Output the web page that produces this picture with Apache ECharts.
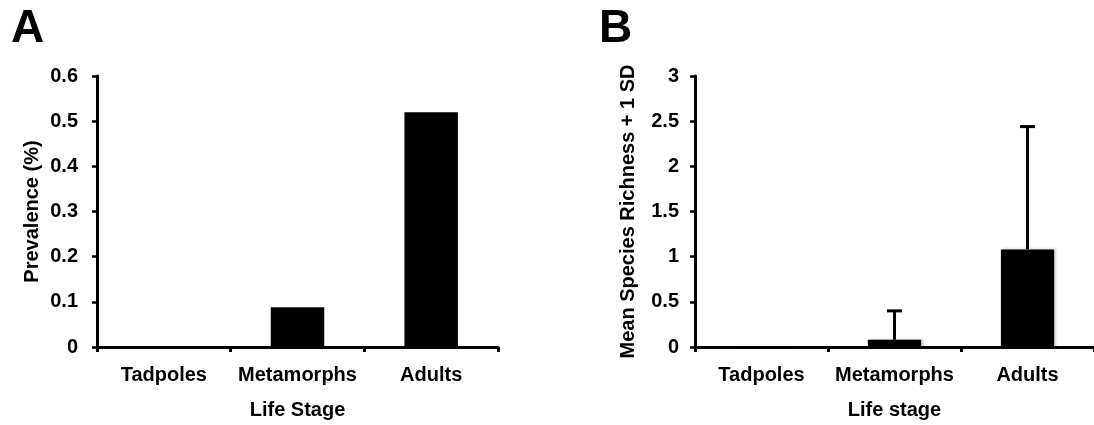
<!DOCTYPE html>
<html>
<head>
<meta charset="utf-8">
<script src="https://cdn.jsdelivr.net/npm/echarts@6/dist/echarts.min.js"></script>
<style>
  html, body { margin: 0; padding: 0; background: #fff; }
  #chart { width: 1094px; height: 425px; }
</style>
</head>
<body>
<div id="chart"></div>
<script>
// data
const stages = ["Tadpoles", "Metamorphs", "Adults"];
const prevalence = [0, 0.088, 0.52];
const richnessMean = [0.005, 0.08, 1.08];
const richnessSD = [0, 0.32, 1.36];

const font = "'Liberation Sans', Arial, sans-serif";
const black = "#000";

function valueAxis(idx, max, step, name, gap, margin) {
  return {
    type: "value",
    gridIndex: idx,
    min: 0,
    max: max,
    interval: step,
    name: name,
    nameLocation: "middle",
    nameGap: gap,
    nameTextStyle: { color: black, fontFamily: font, fontWeight: "bold", fontSize: 20 },
    axisLine: { show: true, lineStyle: { color: black, width: 3 } },
    axisTick: { show: true, length: 5, lineStyle: { color: black, width: 2.5 } },
    axisLabel: { color: black, fontFamily: font, fontWeight: "bold", fontSize: 20, margin: margin },
    splitLine: { show: false }
  };
}

function catAxis(idx, name) {
  return {
    type: "category",
    gridIndex: idx,
    data: stages,
    name: name,
    nameLocation: "middle",
    nameGap: 53,
    nameTextStyle: { color: black, fontFamily: font, fontWeight: "bold", fontSize: 20 },
    axisLine: { lineStyle: { color: black, width: 3 } },
    axisTick: { show: true, length: 5, lineStyle: { color: black, width: 3 } },
    axisLabel: { interval: 0, color: black, fontFamily: font, fontWeight: "bold", fontSize: 20, margin: 18 }
  };
}

const chart = echarts.init(document.getElementById("chart"));
chart.setOption({
  animation: false,
  backgroundColor: "#fff",
  title: [
    { text: "A", left: 6, top: 1, textStyle: { fontFamily: font, fontWeight: "bold", fontSize: 46, color: black } },
    { text: "B", left: 594, top: 1, textStyle: { fontFamily: font, fontWeight: "bold", fontSize: 46, color: black } }
  ],
  grid: [
    { left: 97, top: 76, width: 401, height: 276 },
    { left: 695, top: 76, width: 403, height: 276 }
  ],
  xAxis: [catAxis(0, "Life Stage"), catAxis(1, "Life stage")],
  yAxis: [
    valueAxis(0, 0.6, 0.1, "Prevalence (%)", 55, 19),
    valueAxis(1, 3, 0.5, "Mean Species Richness + 1 SD", 57, 16)
  ],
  series: [
    {
      type: "bar",
      xAxisIndex: 0,
      yAxisIndex: 0,
      data: prevalence,
      barWidth: "40%",
      itemStyle: { color: black }
    },
    {
      type: "bar",
      xAxisIndex: 1,
      yAxisIndex: 1,
      data: richnessMean,
      barWidth: "40%",
      itemStyle: { color: black, shadowColor: "rgba(0,0,0,0.25)", shadowBlur: 3, shadowOffsetX: 2 }
    },
    {
      type: "custom",
      xAxisIndex: 1,
      yAxisIndex: 1,
      data: richnessMean.map((m, i) => [i, m, m + richnessSD[i]]),
      renderItem: function (params, api) {
        if (api.value(2) <= api.value(1)) return null;
        const base = api.coord([api.value(0), api.value(1)]);
        const top = api.coord([api.value(0), api.value(2)]);
        const half = 7.5;
        const style = { stroke: black, lineWidth: 3 };
        return {
          type: "group",
          children: [
            { type: "line", shape: { x1: base[0], y1: base[1], x2: top[0], y2: top[1] }, style: style },
            { type: "line", shape: { x1: top[0] - half, y1: top[1], x2: top[0] + half, y2: top[1] }, style: style }
          ]
        };
      },
      z: 3
    }
  ]
});
</script>
</body>
</html>
